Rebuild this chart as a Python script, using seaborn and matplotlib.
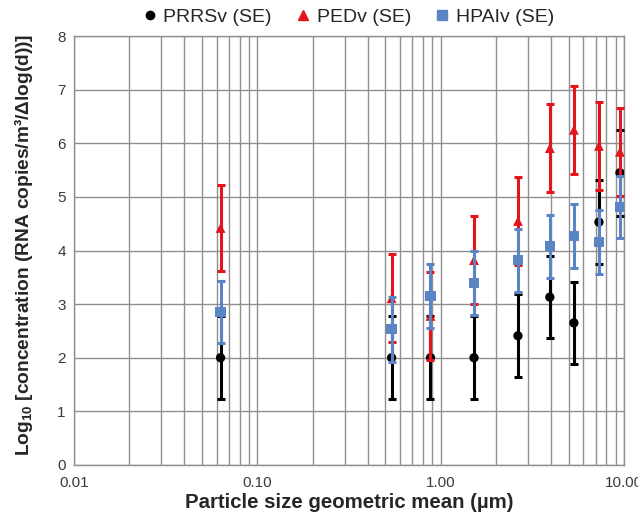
import numpy as np
import pandas as pd
import matplotlib.pyplot as plt
from matplotlib.lines import Line2D
import matplotlib.ticker as mticker
import seaborn as sns

# particle size bins (geometric mean, um)
size_um = [0.063, 0.54, 0.88, 1.52, 2.64, 3.94, 5.33, 7.3, 9.5]

# log10 concentrations and standard errors
prrsv = [2.00, 2.00, 2.00, 2.00, 2.41, 3.13, 2.65, 4.53, 5.45]
prrsv_se = [0.77, 0.77, 0.77, 0.77, 0.77, 0.77, 0.77, 0.78, 0.80]
pedv = [4.42, 3.11, 2.78, 3.82, 4.55, 5.91, 6.25, 5.95, 5.84]
pedv_se = [0.81, 0.82, 0.82, 0.82, 0.82, 0.82, 0.82, 0.82, 0.82]
hpaiv = [2.85, 2.53, 3.15, 3.40, 3.82, 4.08, 4.27, 4.16, 4.81]
hpaiv_se = [0.58, 0.60, 0.60, 0.60, 0.59, 0.59, 0.59, 0.59, 0.58]

labels = ["PRRSv (SE)", "PEDv (SE)", "HPAIv (SE)"]
colors = ["#000000", "#e3141c", "#5a84c4"]
markers = ["o", "^", "s"]
msizes = [45, 50, 55]

sns.set_style("white")
plt.rcParams['font.family'] = ['Liberation Sans', 'DejaVu Sans']
plt.rcParams['mathtext.fontset'] = 'custom'
plt.rcParams['mathtext.rm'] = 'Liberation Sans:bold'
plt.rcParams['mathtext.default'] = 'rm'

fig, ax = plt.subplots(figsize=(6.38, 5.17), dpi=100)
fig.subplots_adjust(left=74/638, right=624/638, top=1-36/517, bottom=1-465/517)

series = [(prrsv, prrsv_se), (pedv, pedv_se), (hpaiv, hpaiv_se)]
for i, (vals, se) in enumerate(series):
    df = pd.DataFrame({"size": size_um, "conc": vals, "se": se})
    ax.errorbar(df["size"], df["conc"], yerr=df["se"], fmt="none",
                ecolor=colors[i], elinewidth=2.2, capsize=3, capthick=2.2,
                zorder=3 + 2 * i)
    sns.scatterplot(data=df, x="size", y="conc", ax=ax, color=colors[i],
                    marker=markers[i], s=msizes[i], edgecolor="none",
                    zorder=4 + 2 * i, legend=False)

ax.set_xscale("log")
ax.set_xlim(0.01, 10)
ax.set_ylim(0, 8)
ax.set_yticks(range(0, 9))
ax.xaxis.set_major_locator(mticker.LogLocator(base=10))
ax.xaxis.set_minor_locator(mticker.LogLocator(base=10, subs=np.arange(2, 10)))
ax.xaxis.set_minor_formatter(mticker.NullFormatter())
ax.xaxis.set_major_formatter(mticker.FixedFormatter(["0.01", "0.10", "1.00", "10.00"]))
ax.set_xticks([0.01, 0.1, 1, 10])

ax.grid(True, which="both", axis="x", color="#8f8f8f", linewidth=1)
ax.grid(True, which="major", axis="y", color="#8f8f8f", linewidth=1)
ax.tick_params(axis="both", which="both", length=0, labelsize=11, labelcolor="#3a3a3a")
ax.tick_params(axis="x", pad=8)
ax.tick_params(axis="y", pad=6)
for sp in ax.spines.values():
    sp.set_color("#8f8f8f")
    sp.set_linewidth(1)

ax.set_xlabel("Particle size geometric mean (µm)", fontsize=14.7, fontweight="bold", labelpad=2)
ax.set_ylabel("Log$_{10}$ [concentration (RNA copies/m³/Δlog(d))]", fontsize=13.8,
              fontweight="bold")
ax.yaxis.set_label_coords(-(74 - 35) / 550, 0.513)

handles = [Line2D([], [], linestyle="none", marker=markers[i], color=colors[i],
                  markersize=[6, 6.5, 6.5][i]) for i in range(3)]
fig.legend(handles, labels, loc="center", bbox_to_anchor=(348/638, 1-17/517), ncol=3,
           frameon=False, fontsize=14, handletextpad=0.3, handlelength=0.8,
           columnspacing=1.2, borderaxespad=0)

fig.savefig("out.png", dpi=100)
